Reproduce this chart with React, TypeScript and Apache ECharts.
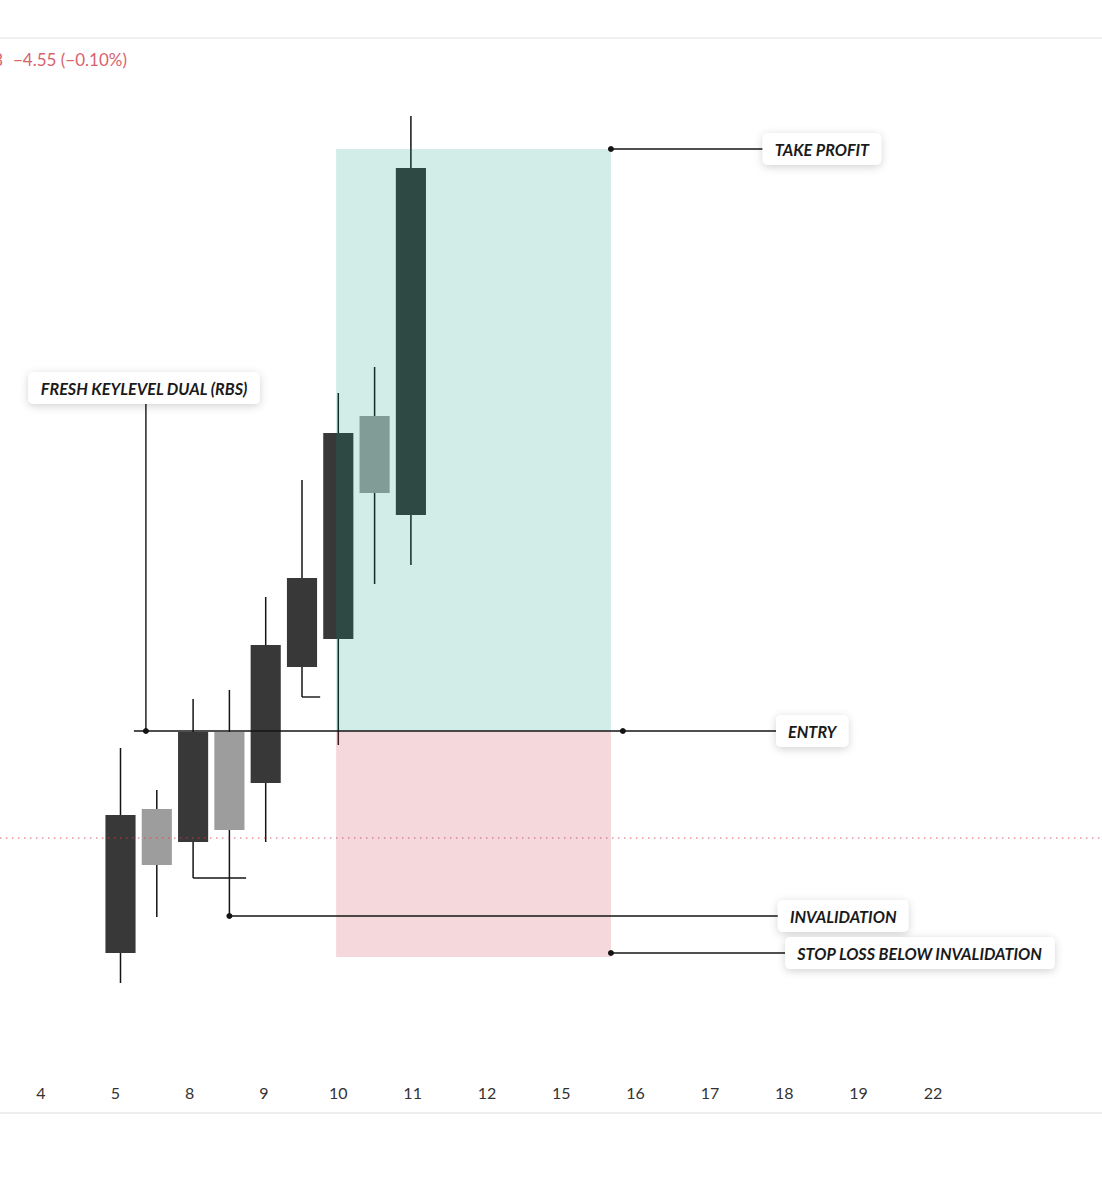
import React, { useEffect, useRef } from "react";
import * as echarts from "echarts";

// ---- day labels of the time axis (one label every two candles) ----
const dayLabels = ["4", "5", "8", "9", "10", "11", "12", "15", "16", "17", "18", "19", "22", ""];

// ---- candles (x = half-day slot index, prices in chart points) ----
const candleSlots = [2, 3, 4, 5, 6, 7, 8, 9, 10];
const openPrices = [47, 191, 158, 268, 217, 333, 361, 584, 485];
const closePrices = [185, 135, 268, 170, 355, 422, 567, 507, 832];
const lowPrices = [17, 83, 122, 84, 158, 303, 255, 416, 435];
const highPrices = [252, 210, 301, 310, 403, 520, 607, 633, 884];

// ---- trade zones ----
const zoneSlots = [7.94, 15.51];
const takeProfitPrice = 851;
const entryPrice = 269;
const zoneBottomPrice = 43;
const lastPrice = 162;

// ---- level annotations ----
const levelNames = ["TAKE PROFIT", "ENTRY", "INVALIDATION", "STOP LOSS BELOW INVALIDATION"];
const levelPrices = [851, 269, 84, 47];
const levelFrom = [15.51, 2.37, 5, 15.51];
const levelDots = [15.51, 15.84, 5, 15.51];
const levelTo = [19.69, 20.06, 20.11, 20.31];

// ---- key level callout ----
const keyLevelName = "FRESH KEYLEVEL DUAL (RBS)";
const keyLevelLabelPos = [2.65, 612];
const keyLevelDot = [2.7, 269];

// ---- swing-low brackets ----
const swingSlots = [4, 7];
const swingPrices = [122, 303];
const swingEnds = [5.46, 7.5];

const UP = "#383838";
const DOWN = "#9d9d9d";
const INK = "#141414";
const LABEL_FONT = "italic bold 16.2px Lato";

export default function App() {
  const ref = useRef<HTMLDivElement>(null);

  useEffect(() => {
    document.body.style.margin = "0";
    if (!ref.current) return;
    const chart = echarts.init(ref.current, undefined, { renderer: "svg" });

    const candleData = candleSlots.map((s, i) => [s, openPrices[i], closePrices[i], lowPrices[i], highPrices[i]]);

    const option: any = {
      animation: false,
      backgroundColor: "#ffffff",
      grid: [
        { left: 11.6, right: 1.4, top: 0, height: 1000 },
        { left: 3.83, width: 1040.6, top: 1070, height: 4 },
      ],
      xAxis: [
        { type: "value", gridIndex: 0, min: -1, max: 29, show: false },
        {
          type: "category",
          gridIndex: 1,
          data: dayLabels,
          axisLine: { show: false },
          axisTick: { show: false },
          splitLine: { show: false },
          axisLabel: { interval: 0, color: "#333333", fontSize: 16, fontFamily: "Lato, 'Noto Sans', sans-serif", margin: 10 },
        },
      ],
      yAxis: [
        { type: "value", gridIndex: 0, min: 0, max: 1000, show: false },
        { type: "value", gridIndex: 1, min: 0, max: 1, show: false },
      ],
      graphic: [
        { type: "line", shape: { x1: 0, y1: 38, x2: 1102, y2: 38 }, style: { stroke: "#ececec", lineWidth: 1.5 }, silent: true },
        { type: "line", shape: { x1: 0, y1: 1113, x2: 1102, y2: 1113 }, style: { stroke: "#e8e8e8", lineWidth: 1.5 }, silent: true },
        {
          type: "text",
          style: { text: "3", x: 3, y: 59, font: "17px Lato", fill: "#d9626e", align: "right", verticalAlign: "middle", textAlign: "right", textVerticalAlign: "middle" },
        },
        {
          type: "text",
          style: { text: "\u22124.55 (\u22120.10%)", x: 13, y: 59, font: "17px Lato", fill: "#d9626e", align: "left", verticalAlign: "middle", textAlign: "left", textVerticalAlign: "middle" },
        },
      ],
      series: [
        {
          type: "custom",
          name: "candles",
          xAxisIndex: 0,
          yAxisIndex: 0,
          clip: false,
          z: 2,
          encode: { x: 0, y: [1, 2, 3, 4] },
          data: candleData,
          renderItem: (params: any, api: any) => {
            const x = api.value(0);
            const o = api.value(1);
            const c = api.value(2);
            const l = api.value(3);
            const h = api.value(4);
            const pO = api.coord([x, o]);
            const pC = api.coord([x, c]);
            const pL = api.coord([x, l]);
            const pH = api.coord([x, h]);
            const w = api.size([0.83, 0])[0];
            const color = c >= o ? UP : DOWN;
            const top = Math.min(pO[1], pC[1]);
            const hgt = Math.abs(pO[1] - pC[1]);
            return {
              type: "group",
              children: [
                { type: "line", shape: { x1: pH[0], y1: pH[1], x2: pL[0], y2: pL[1] }, style: { stroke: INK, lineWidth: 1.5 } },
                { type: "rect", shape: { x: pO[0] - w / 2, y: top, width: w, height: hgt }, style: { fill: color } },
              ],
            };
          },
        },
        {
          type: "custom",
          name: "annotations",
          xAxisIndex: 0,
          yAxisIndex: 0,
          clip: false,
          z: 3,
          encode: { x: 0, y: 1 },
          data: [[0, 0]],
          renderItem: (params: any, api: any) => {
            const P = (x: number, v: number) => api.coord([x, v]);
            const kids: any[] = [];
            // zones
            const a = P(zoneSlots[0], takeProfitPrice);
            const b = P(zoneSlots[1], entryPrice);
            const d = P(zoneSlots[1], zoneBottomPrice);
            kids.push({ type: "rect", shape: { x: a[0], y: a[1], width: b[0] - a[0], height: b[1] - a[1] }, style: { fill: "rgba(8,153,129,0.18)" } });
            kids.push({ type: "rect", shape: { x: a[0], y: b[1], width: b[0] - a[0], height: d[1] - b[1] }, style: { fill: "rgba(205,62,78,0.2)" } });
            // last price dotted line
            const lp = P(0, lastPrice);
            kids.push({ type: "line", shape: { x1: 0, y1: lp[1], x2: api.getWidth(), y2: lp[1] }, style: { stroke: "rgba(196,72,86,0.9)", lineWidth: 1.2, lineDash: [1.4, 4.6] } });
            // swing-low brackets
            swingSlots.forEach((s, i) => {
              const p1 = P(s, swingPrices[i]);
              const p2 = P(swingEnds[i], swingPrices[i]);
              kids.push({ type: "line", shape: { x1: p1[0], y1: p1[1], x2: p2[0], y2: p2[1] }, style: { stroke: INK, lineWidth: 1.4 } });
            });
            // key level vertical connector
            const kl = P(keyLevelLabelPos[0], keyLevelLabelPos[1]);
            const kd = P(keyLevelDot[0], keyLevelDot[1]);
            kids.push({ type: "line", shape: { x1: kd[0], y1: kl[1], x2: kd[0], y2: kd[1] }, style: { stroke: INK, lineWidth: 1.4 } });
            kids.push({ type: "circle", shape: { cx: kd[0], cy: kd[1], r: 3 }, style: { fill: INK } });
            // level lines
            levelNames.forEach((name, i) => {
              const p1 = P(levelFrom[i], levelPrices[i]);
              const p2 = P(levelTo[i], levelPrices[i]);
              const pd = P(levelDots[i], levelPrices[i]);
              kids.push({ type: "line", shape: { x1: p1[0], y1: p1[1], x2: p2[0], y2: p2[1] }, style: { stroke: INK, lineWidth: 1.4 } });
              kids.push({ type: "circle", shape: { cx: pd[0], cy: pd[1], r: 3 }, style: { fill: INK } });
            });
            const labelStyle = {
              font: LABEL_FONT,
              fill: "#1a1a1a",
              backgroundColor: "#ffffff",
              padding: [7, 12, 7, 12],
              lineHeight: 18,
              borderRadius: 5,
              shadowBlur: 8,
              shadowColor: "rgba(0,0,0,0.18)",
              shadowOffsetY: 2,
            };
            levelNames.forEach((name, i) => {
              const p2 = P(levelTo[i], levelPrices[i]);
              kids.push({
                type: "text",
                style: { ...labelStyle, text: name, x: p2[0], y: p2[1], align: "left", verticalAlign: "middle", textAlign: "left", textVerticalAlign: "middle" },
              });
            });
            kids.push({
              type: "text",
              style: { ...labelStyle, text: keyLevelName, x: kl[0], y: kl[1], align: "center", verticalAlign: "middle", textAlign: "center", textVerticalAlign: "middle" },
            });
            return { type: "group", children: kids };
          },
        },
      ],
    };

    chart.setOption(option);
    return () => chart.dispose();
  }, []);

  return <div ref={ref} style={{ width: 1102, height: 1200 }} />;
}
